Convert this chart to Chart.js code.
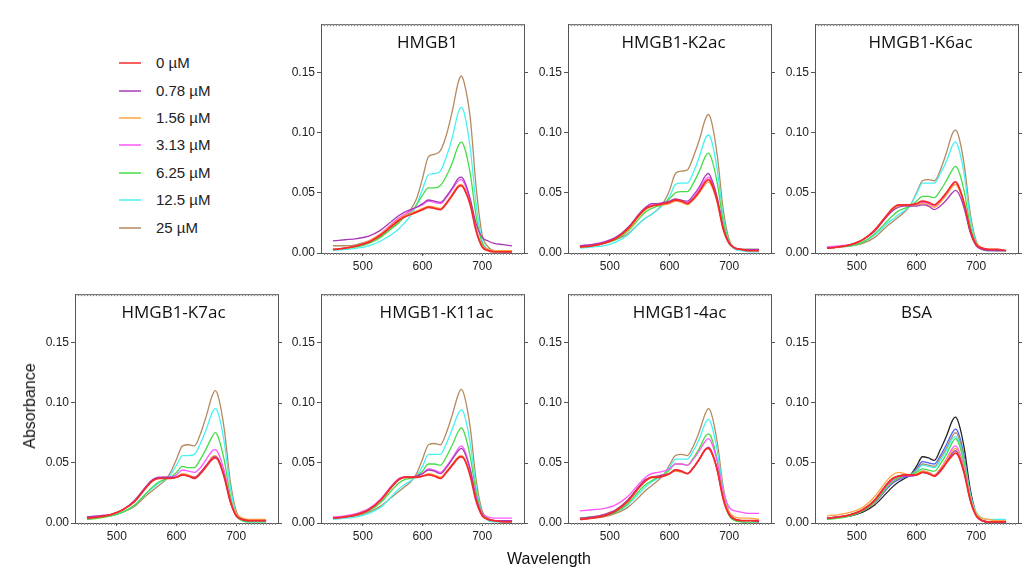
<!DOCTYPE html>
<html>
<head>
<meta charset="utf-8">
<script src="https://cdn.jsdelivr.net/npm/chart.js@4"></script>
<style>
  body { margin: 0; background: #fff; }
  #page { position: relative; width: 1022px; height: 570px; overflow: hidden; font-family: "Liberation Sans", Arial, sans-serif; color: #222; }
  canvas { position: absolute; }
  .leg { position: absolute; font-size: 15px; }
  .legline { position: absolute; height: 2px; width: 22px; opacity: 0.75; }
  .axtitle { position: absolute; font-size: 16px; color: #111; white-space: nowrap; }
</style>
</head>
<body>
<div id="page"></div>
<script>
'use strict';

var wavelengths = [450, 470, 490, 510, 530, 550, 560, 570, 580, 590, 600, 610, 620, 630, 640, 650, 660, 665, 670, 680, 690, 700, 710, 720, 735, 750];
var concLabels = ['0 µM', '0.78 µM', '1.56 µM', '3.13 µM', '6.25 µM', '12.5 µM', '25 µM'];
var concColors = ['#f52a2a', '#a83ab8', '#ffa540', '#ff55ff', '#45dd45', '#45f2f2', '#b58a60'];
var xTicks = [500, 600, 700];
var yTicks = [0, 0.05, 0.10, 0.15];

// each panel: one list per concentration, same order as concLabels
var hmgb1 = [
  [0.003, 0.004, 0.006, 0.009, 0.015, 0.023, 0.027, 0.030, 0.032, 0.034, 0.036, 0.038, 0.037, 0.036, 0.041, 0.048, 0.055, 0.056, 0.053, 0.040, 0.018, 0.005, 0.002, 0.001, 0.001, 0.001],
  [0.010, 0.011, 0.012, 0.014, 0.019, 0.027, 0.031, 0.034, 0.036, 0.038, 0.041, 0.044, 0.043, 0.042, 0.047, 0.054, 0.062, 0.063, 0.060, 0.045, 0.024, 0.013, 0.010, 0.008, 0.007, 0.006],
  [0.003, 0.004, 0.006, 0.010, 0.016, 0.024, 0.028, 0.031, 0.033, 0.035, 0.037, 0.039, 0.038, 0.037, 0.042, 0.049, 0.056, 0.057, 0.054, 0.041, 0.019, 0.006, 0.003, 0.002, 0.002, 0.002],
  [0.003, 0.004, 0.006, 0.010, 0.016, 0.025, 0.029, 0.032, 0.035, 0.038, 0.040, 0.043, 0.042, 0.041, 0.046, 0.053, 0.060, 0.061, 0.058, 0.043, 0.020, 0.006, 0.003, 0.002, 0.001, 0.001],
  [0.003, 0.004, 0.005, 0.008, 0.013, 0.021, 0.025, 0.030, 0.034, 0.040, 0.048, 0.054, 0.054, 0.056, 0.064, 0.075, 0.089, 0.092, 0.088, 0.066, 0.030, 0.008, 0.003, 0.002, 0.002, 0.002],
  [0.002, 0.003, 0.004, 0.006, 0.010, 0.016, 0.020, 0.025, 0.031, 0.040, 0.053, 0.065, 0.066, 0.068, 0.080, 0.096, 0.117, 0.121, 0.116, 0.087, 0.040, 0.010, 0.003, 0.001, 0.001, 0.001],
  [0.006, 0.006, 0.007, 0.010, 0.014, 0.022, 0.026, 0.031, 0.036, 0.045, 0.062, 0.080, 0.082, 0.085, 0.098, 0.118, 0.142, 0.147, 0.141, 0.112, 0.054, 0.015, 0.005, 0.002, 0.002, 0.002]
];
var k2ac = [
  [0.005, 0.006, 0.008, 0.012, 0.020, 0.032, 0.037, 0.039, 0.040, 0.041, 0.042, 0.044, 0.043, 0.041, 0.045, 0.051, 0.059, 0.061, 0.058, 0.043, 0.020, 0.008, 0.004, 0.003, 0.002, 0.002],
  [0.006, 0.007, 0.009, 0.013, 0.021, 0.033, 0.038, 0.041, 0.041, 0.042, 0.043, 0.045, 0.044, 0.043, 0.048, 0.055, 0.064, 0.066, 0.062, 0.046, 0.021, 0.008, 0.004, 0.003, 0.003, 0.003],
  [0.005, 0.006, 0.008, 0.012, 0.019, 0.031, 0.036, 0.039, 0.040, 0.040, 0.041, 0.043, 0.042, 0.040, 0.044, 0.050, 0.057, 0.059, 0.056, 0.042, 0.020, 0.008, 0.004, 0.003, 0.002, 0.002],
  [0.006, 0.007, 0.009, 0.013, 0.020, 0.032, 0.037, 0.040, 0.041, 0.041, 0.042, 0.044, 0.043, 0.042, 0.046, 0.053, 0.061, 0.063, 0.060, 0.044, 0.020, 0.008, 0.004, 0.003, 0.002, 0.002],
  [0.005, 0.006, 0.008, 0.011, 0.018, 0.029, 0.034, 0.037, 0.039, 0.041, 0.045, 0.050, 0.051, 0.051, 0.058, 0.068, 0.080, 0.083, 0.079, 0.058, 0.026, 0.009, 0.004, 0.003, 0.003, 0.003],
  [0.004, 0.005, 0.006, 0.009, 0.015, 0.025, 0.029, 0.032, 0.036, 0.040, 0.047, 0.057, 0.058, 0.058, 0.067, 0.080, 0.095, 0.098, 0.094, 0.069, 0.030, 0.009, 0.003, 0.002, 0.001, 0.001],
  [0.006, 0.007, 0.008, 0.011, 0.016, 0.025, 0.029, 0.032, 0.036, 0.042, 0.052, 0.066, 0.068, 0.069, 0.080, 0.094, 0.111, 0.115, 0.110, 0.081, 0.036, 0.011, 0.004, 0.003, 0.002, 0.002]
];
var k6ac = [
  [0.004, 0.005, 0.007, 0.011, 0.019, 0.031, 0.037, 0.040, 0.040, 0.040, 0.041, 0.043, 0.042, 0.040, 0.044, 0.050, 0.057, 0.059, 0.056, 0.041, 0.019, 0.007, 0.004, 0.003, 0.003, 0.002],
  [0.004, 0.005, 0.007, 0.011, 0.018, 0.030, 0.035, 0.038, 0.039, 0.039, 0.039, 0.040, 0.039, 0.036, 0.039, 0.044, 0.050, 0.052, 0.050, 0.037, 0.017, 0.006, 0.003, 0.002, 0.002, 0.002],
  [0.004, 0.005, 0.007, 0.011, 0.019, 0.031, 0.036, 0.039, 0.040, 0.040, 0.040, 0.041, 0.040, 0.038, 0.042, 0.048, 0.055, 0.057, 0.054, 0.040, 0.019, 0.008, 0.004, 0.003, 0.003, 0.002],
  [0.005, 0.006, 0.007, 0.011, 0.019, 0.031, 0.036, 0.039, 0.040, 0.040, 0.040, 0.042, 0.041, 0.039, 0.043, 0.049, 0.056, 0.057, 0.055, 0.040, 0.018, 0.007, 0.003, 0.003, 0.002, 0.002],
  [0.004, 0.005, 0.006, 0.009, 0.016, 0.026, 0.031, 0.035, 0.037, 0.039, 0.043, 0.047, 0.047, 0.046, 0.052, 0.060, 0.069, 0.072, 0.069, 0.051, 0.023, 0.008, 0.003, 0.002, 0.002, 0.002],
  [0.004, 0.005, 0.006, 0.009, 0.015, 0.024, 0.028, 0.032, 0.035, 0.040, 0.049, 0.058, 0.058, 0.058, 0.066, 0.076, 0.089, 0.092, 0.088, 0.065, 0.029, 0.009, 0.003, 0.002, 0.002, 0.002],
  [0.004, 0.005, 0.006, 0.008, 0.013, 0.022, 0.026, 0.030, 0.034, 0.040, 0.050, 0.060, 0.061, 0.060, 0.069, 0.083, 0.099, 0.102, 0.098, 0.073, 0.033, 0.010, 0.004, 0.003, 0.002, 0.002]
];
var k7ac = [
  [0.004, 0.005, 0.007, 0.011, 0.018, 0.030, 0.035, 0.037, 0.037, 0.037, 0.038, 0.040, 0.039, 0.037, 0.041, 0.047, 0.053, 0.054, 0.052, 0.038, 0.018, 0.006, 0.003, 0.002, 0.002, 0.002],
  [0.005, 0.006, 0.007, 0.011, 0.019, 0.031, 0.036, 0.038, 0.038, 0.038, 0.038, 0.040, 0.039, 0.038, 0.042, 0.048, 0.054, 0.055, 0.053, 0.039, 0.018, 0.006, 0.003, 0.002, 0.002, 0.002],
  [0.004, 0.005, 0.007, 0.011, 0.018, 0.030, 0.035, 0.037, 0.037, 0.037, 0.038, 0.041, 0.040, 0.038, 0.042, 0.048, 0.055, 0.056, 0.053, 0.039, 0.019, 0.008, 0.004, 0.003, 0.003, 0.003],
  [0.005, 0.006, 0.007, 0.011, 0.018, 0.030, 0.035, 0.037, 0.038, 0.038, 0.040, 0.044, 0.043, 0.042, 0.046, 0.053, 0.060, 0.061, 0.058, 0.043, 0.020, 0.007, 0.003, 0.002, 0.002, 0.002],
  [0.003, 0.004, 0.006, 0.009, 0.015, 0.025, 0.030, 0.034, 0.036, 0.038, 0.042, 0.047, 0.046, 0.046, 0.053, 0.062, 0.072, 0.075, 0.071, 0.052, 0.023, 0.006, 0.002, 0.001, 0.001, 0.001],
  [0.004, 0.005, 0.006, 0.009, 0.015, 0.025, 0.029, 0.033, 0.036, 0.040, 0.048, 0.056, 0.056, 0.057, 0.066, 0.078, 0.092, 0.095, 0.091, 0.067, 0.030, 0.008, 0.002, 0.001, 0.001, 0.001],
  [0.004, 0.005, 0.006, 0.009, 0.014, 0.023, 0.027, 0.031, 0.035, 0.042, 0.053, 0.064, 0.065, 0.064, 0.074, 0.089, 0.106, 0.110, 0.105, 0.078, 0.035, 0.010, 0.003, 0.002, 0.002, 0.002]
];
var k11ac = [
  [0.004, 0.005, 0.007, 0.011, 0.019, 0.031, 0.036, 0.038, 0.038, 0.038, 0.039, 0.040, 0.039, 0.037, 0.042, 0.048, 0.054, 0.055, 0.053, 0.039, 0.018, 0.006, 0.003, 0.002, 0.001, 0.001],
  [0.004, 0.005, 0.007, 0.011, 0.019, 0.031, 0.036, 0.038, 0.038, 0.039, 0.041, 0.044, 0.043, 0.041, 0.046, 0.053, 0.060, 0.062, 0.059, 0.044, 0.020, 0.007, 0.003, 0.002, 0.002, 0.002],
  [0.004, 0.005, 0.007, 0.011, 0.019, 0.031, 0.036, 0.038, 0.038, 0.038, 0.039, 0.041, 0.040, 0.038, 0.043, 0.049, 0.055, 0.056, 0.054, 0.040, 0.019, 0.007, 0.003, 0.002, 0.002, 0.002],
  [0.005, 0.006, 0.008, 0.012, 0.020, 0.032, 0.037, 0.038, 0.038, 0.039, 0.041, 0.045, 0.044, 0.042, 0.047, 0.054, 0.062, 0.064, 0.061, 0.045, 0.021, 0.008, 0.005, 0.004, 0.004, 0.004],
  [0.004, 0.005, 0.007, 0.010, 0.017, 0.028, 0.033, 0.036, 0.037, 0.039, 0.043, 0.049, 0.049, 0.048, 0.055, 0.065, 0.076, 0.079, 0.075, 0.055, 0.025, 0.008, 0.003, 0.002, 0.002, 0.002],
  [0.003, 0.004, 0.005, 0.008, 0.013, 0.023, 0.028, 0.032, 0.035, 0.039, 0.047, 0.057, 0.057, 0.057, 0.066, 0.078, 0.091, 0.094, 0.090, 0.066, 0.029, 0.008, 0.002, 0.001, 0.001, 0.001],
  [0.004, 0.005, 0.006, 0.009, 0.014, 0.022, 0.026, 0.030, 0.034, 0.041, 0.053, 0.065, 0.066, 0.065, 0.075, 0.090, 0.107, 0.111, 0.106, 0.079, 0.035, 0.010, 0.004, 0.002, 0.002, 0.002]
];
var ac4 = [
  [0.003, 0.004, 0.006, 0.010, 0.018, 0.030, 0.035, 0.038, 0.038, 0.039, 0.041, 0.044, 0.043, 0.041, 0.046, 0.053, 0.061, 0.062, 0.059, 0.044, 0.020, 0.007, 0.003, 0.002, 0.002, 0.002],
  [0.004, 0.005, 0.007, 0.011, 0.019, 0.031, 0.036, 0.038, 0.039, 0.040, 0.041, 0.044, 0.043, 0.041, 0.046, 0.053, 0.061, 0.063, 0.060, 0.044, 0.020, 0.007, 0.003, 0.002, 0.002, 0.001],
  [0.004, 0.005, 0.007, 0.011, 0.019, 0.031, 0.036, 0.038, 0.039, 0.040, 0.041, 0.043, 0.042, 0.041, 0.046, 0.053, 0.061, 0.062, 0.059, 0.045, 0.022, 0.009, 0.005, 0.004, 0.004, 0.003],
  [0.010, 0.011, 0.012, 0.015, 0.022, 0.033, 0.038, 0.041, 0.042, 0.043, 0.045, 0.049, 0.049, 0.048, 0.053, 0.060, 0.068, 0.070, 0.067, 0.051, 0.026, 0.013, 0.010, 0.009, 0.008, 0.008],
  [0.004, 0.005, 0.006, 0.009, 0.016, 0.027, 0.032, 0.035, 0.038, 0.040, 0.044, 0.049, 0.049, 0.048, 0.054, 0.062, 0.072, 0.074, 0.071, 0.052, 0.023, 0.006, 0.002, 0.001, 0.000, 0.000],
  [0.004, 0.005, 0.006, 0.009, 0.015, 0.025, 0.030, 0.034, 0.037, 0.040, 0.046, 0.053, 0.053, 0.053, 0.060, 0.070, 0.083, 0.086, 0.082, 0.060, 0.027, 0.008, 0.003, 0.002, 0.002, 0.002],
  [0.003, 0.004, 0.005, 0.008, 0.013, 0.022, 0.027, 0.031, 0.035, 0.040, 0.048, 0.056, 0.057, 0.056, 0.064, 0.076, 0.091, 0.095, 0.091, 0.067, 0.030, 0.009, 0.003, 0.002, 0.002, 0.002]
];
// BSA has two more traces (blue, black) drawn after the seven concentrations
var bsa = [
  [0.004, 0.005, 0.007, 0.011, 0.019, 0.032, 0.037, 0.039, 0.040, 0.040, 0.040, 0.042, 0.041, 0.039, 0.043, 0.050, 0.056, 0.058, 0.056, 0.041, 0.019, 0.006, 0.002, 0.001, 0.001, 0.001],
  [0.004, 0.005, 0.007, 0.011, 0.019, 0.032, 0.037, 0.039, 0.039, 0.039, 0.040, 0.042, 0.041, 0.039, 0.044, 0.050, 0.058, 0.060, 0.057, 0.042, 0.019, 0.006, 0.002, 0.001, 0.001, 0.001],
  [0.006, 0.007, 0.009, 0.013, 0.022, 0.035, 0.040, 0.042, 0.041, 0.040, 0.041, 0.043, 0.042, 0.040, 0.045, 0.052, 0.060, 0.062, 0.059, 0.044, 0.021, 0.008, 0.004, 0.003, 0.002, 0.002],
  [0.004, 0.005, 0.007, 0.011, 0.019, 0.031, 0.036, 0.039, 0.039, 0.039, 0.040, 0.043, 0.042, 0.040, 0.045, 0.053, 0.062, 0.064, 0.061, 0.045, 0.020, 0.006, 0.002, 0.001, 0.001, 0.000],
  [0.003, 0.004, 0.006, 0.010, 0.018, 0.030, 0.035, 0.038, 0.039, 0.040, 0.042, 0.045, 0.044, 0.043, 0.049, 0.057, 0.067, 0.070, 0.067, 0.049, 0.022, 0.007, 0.002, 0.001, 0.001, 0.001],
  [0.004, 0.005, 0.007, 0.011, 0.018, 0.030, 0.035, 0.038, 0.039, 0.040, 0.043, 0.048, 0.047, 0.046, 0.052, 0.060, 0.070, 0.072, 0.069, 0.051, 0.024, 0.009, 0.004, 0.003, 0.003, 0.003],
  [0.004, 0.005, 0.007, 0.010, 0.017, 0.029, 0.034, 0.037, 0.039, 0.040, 0.044, 0.049, 0.048, 0.047, 0.054, 0.062, 0.072, 0.075, 0.072, 0.053, 0.024, 0.007, 0.002, 0.001, 0.001, 0.001],
  [0.004, 0.005, 0.006, 0.010, 0.017, 0.028, 0.033, 0.036, 0.038, 0.040, 0.045, 0.051, 0.050, 0.049, 0.056, 0.065, 0.075, 0.078, 0.075, 0.055, 0.025, 0.007, 0.002, 0.001, 0.001, 0.001],
  [0.004, 0.005, 0.006, 0.009, 0.015, 0.025, 0.030, 0.034, 0.037, 0.040, 0.047, 0.055, 0.054, 0.052, 0.061, 0.072, 0.085, 0.088, 0.084, 0.062, 0.028, 0.008, 0.002, 0.001, 0.001, 0.001]
];
var bsaColors = concColors.concat(['#4a62ff', '#222222']);
var bsaLabels = concLabels.concat(['BSA trace 8', 'BSA trace 9']);

var panels = [
  { title: 'HMGB1', data: hmgb1, left: 321, top: 19, titleShift: 5 },
  { title: 'HMGB1-K2ac', data: k2ac, left: 568, top: 19, titleShift: 4 },
  { title: 'HMGB1-K6ac', data: k6ac, left: 815, top: 19, titleShift: 4 },
  { title: 'HMGB1-K7ac', data: k7ac, left: 75, top: 289, titleShift: -3 },
  { title: 'HMGB1-K11ac', data: k11ac, left: 321, top: 289, titleShift: 14 },
  { title: 'HMGB1-4ac', data: ac4, left: 568, top: 289, titleShift: 10 },
  { title: 'BSA', data: bsa, left: 815, top: 289, titleShift: 0, colors: bsaColors, labels: bsaLabels }
];

var page = document.getElementById('page');
var plotW = 203, plotH = 234, yAxisW = 48, xAxisH = 24, pad = 4;

var framePlugin = {
  id: 'frame',
  afterDraw: function(chart) {
    var a = chart.chartArea, c = chart.ctx, xs = chart.scales.x;
    c.save();
    c.strokeStyle = '#555';
    c.lineWidth = 1;
    c.beginPath();
    c.moveTo(a.left, a.top + 0.5); c.lineTo(a.right + 0.5, a.top + 0.5);
    c.moveTo(a.right + 0.5, a.top); c.lineTo(a.right + 0.5, a.bottom);
    chart.scales.y.ticks.forEach(function(t) {
      var py = Math.round(chart.scales.y.getPixelForValue(t.value)) + 0.5;
      c.moveTo(a.right, py); c.lineTo(a.right + 4, py);
    });
    c.stroke();
    c.strokeStyle = '#888';
    c.beginPath();
    for (var w = 435; w < 770; w += 5) {
      var px = Math.round(xs.getPixelForValue(w)) + 0.5;
      c.moveTo(px, a.top); c.lineTo(px, a.top + 2);
      c.moveTo(px, a.bottom); c.lineTo(px, a.bottom + 2);
    }
    c.stroke();
    var opt = chart.options.plugins.frame;
    c.fillStyle = '#111';
    c.font = '17px "Open Sans"';
    c.textAlign = 'center';
    c.textBaseline = 'alphabetic';
    c.fillText(opt.title, (a.left + a.right) / 2 + opt.shift, a.top + 24);
    c.restore();
  }
};

panels.forEach(function(p) {
  var cv = document.createElement('canvas');
  var cw = yAxisW + plotW + pad, ch = pad + plotH + xAxisH;
  cv.width = cw; cv.height = ch;
  cv.style.left = (p.left - yAxisW) + 'px';
  cv.style.top = (p.top - pad) + 'px';
  cv.style.width = cw + 'px'; cv.style.height = ch + 'px';
  page.appendChild(cv);

  var colors = p.colors || concColors;
  var labels = p.labels || concLabels;
  var datasets = p.data.map(function(vals, i) {
    return {
      label: labels[i],
      data: vals.map(function(v, j) { return { x: wavelengths[j], y: v }; }),
      borderColor: colors[i],
      borderWidth: i === 0 ? 1.8 : 1.3,
      pointRadius: 0,
      cubicInterpolationMode: 'monotone',
      fill: false
    };
  });

  new Chart(cv, {
    type: 'line',
    data: { datasets: datasets },
    plugins: [framePlugin],
    options: {
      responsive: false,
      animation: false,
      devicePixelRatio: 1,
      layout: { padding: { top: pad, right: pad, left: 0, bottom: 0 } },
      plugins: {
        legend: { display: false },
        tooltip: { enabled: false },
        frame: { title: p.title, shift: p.titleShift }
      },
      scales: {
        x: {
          type: 'linear', min: 430, max: 770,
          afterBuildTicks: function(s) { s.ticks = xTicks.map(function(v) { return { value: v }; }); },
          afterFit: function(s) { s.height = xAxisH; },
          grid: { drawOnChartArea: false, tickLength: 3, color: '#555' },
          border: { color: '#555' },
          ticks: { color: '#222', font: { family: 'Liberation Sans', size: 12 }, padding: 3, maxRotation: 0 }
        },
        y: {
          min: 0, max: 0.19,
          afterBuildTicks: function(s) { s.ticks = yTicks.map(function(v) { return { value: v }; }); },
          afterFit: function(s) { s.width = yAxisW; },
          grid: { drawOnChartArea: false, tickLength: 4, color: '#555' },
          border: { color: '#555' },
          ticks: { color: '#222', font: { family: 'Liberation Sans', size: 12 }, padding: 2,
            callback: function(v) { return v.toFixed(2); } }
        }
      }
    }
  });
});

// legend
var legTops = [63, 90.5, 118, 145, 172.5, 200, 227.5];
concLabels.forEach(function(lab, i) {
  var ln = document.createElement('div');
  ln.className = 'legline';
  ln.style.left = '119px';
  ln.style.top = (legTops[i] - 1) + 'px';
  ln.style.background = concColors[i];
  page.appendChild(ln);
  var tx = document.createElement('div');
  tx.className = 'leg';
  tx.textContent = lab;
  tx.style.left = '156px';
  tx.style.top = (legTops[i] - 9) + 'px';
  page.appendChild(tx);
});

var yt = document.createElement('div');
yt.className = 'axtitle';
yt.textContent = 'Absorbance';
yt.style.left = '30px'; yt.style.top = '406px';
yt.style.transform = 'translate(-50%, -50%) rotate(-90deg)';
page.appendChild(yt);

var xt = document.createElement('div');
xt.className = 'axtitle';
xt.textContent = 'Wavelength';
xt.style.left = '549px'; xt.style.top = '559px';
xt.style.transform = 'translate(-50%, -50%)';
page.appendChild(xt);
</script>
</body>
</html>
